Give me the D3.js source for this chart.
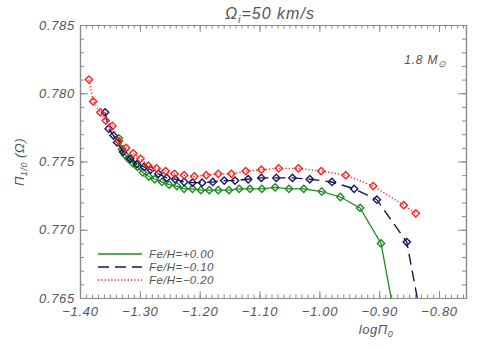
<!DOCTYPE html>
<html>
<head>
<meta charset="utf-8">
<script src="https://cdn.jsdelivr.net/npm/d3@7"></script>
<style>
  body { margin: 0; background: #fff; }
  svg text { font-family: "Liberation Sans", Arial, sans-serif; font-style: italic; fill: #555; }
</style>
</head>
<body>
<svg width="491" height="350"></svg>
<script>
// data (logPi0, Pi1/0)
var seriesNames = ['Fe/H=+0.00', 'Fe/H=\u22120.10', 'Fe/H=\u22120.20'];

var greenX = [-1.335, -1.330, -1.325, -1.319, -1.312, -1.304, -1.295, -1.285, -1.275, -1.263,
  -1.251, -1.238, -1.226, -1.212, -1.198, -1.184, -1.169, -1.151, -1.134, -1.116,
  -1.096, -1.074, -1.051, -1.026, -0.996, -0.965, -0.932, -0.897, -0.875];
var greenY = [0.7767, 0.7759, 0.7755, 0.7752, 0.7749, 0.7746, 0.7742, 0.7739, 0.7737, 0.7735,
  0.7733, 0.7732, 0.7730, 0.7730, 0.7729, 0.7729, 0.7729, 0.7729, 0.7730, 0.7730,
  0.7730, 0.7731, 0.7730, 0.7730, 0.7728, 0.7724, 0.7716, 0.7690, 0.7638];

var blueX = [-1.358, -1.352, -1.344, -1.338, -1.328, -1.316, -1.305, -1.293, -1.282, -1.269,
  -1.255, -1.241, -1.226, -1.212, -1.196, -1.178, -1.159, -1.141, -1.119, -1.097,
  -1.072, -1.045, -1.016, -0.979, -0.942, -0.904, -0.854, -0.830];
var blueY = [0.7786, 0.7774, 0.7769, 0.7764, 0.7757, 0.7752, 0.7748, 0.7746, 0.7744, 0.7741,
  0.7738, 0.7737, 0.7735, 0.77345, 0.77345, 0.7735, 0.7736, 0.7736, 0.7737, 0.7738,
  0.7738, 0.7738, 0.7737, 0.7735, 0.7730, 0.7722, 0.7691, 0.7635];

var redX = [-1.385, -1.378, -1.366, -1.357, -1.346, -1.335, -1.323, -1.311, -1.299, -1.286,
  -1.272, -1.257, -1.242, -1.226, -1.209, -1.189, -1.169, -1.147, -1.123, -1.097,
  -1.068, -1.035, -0.997, -0.956, -0.910, -0.859, -0.839];
var redY = [0.7810, 0.7794, 0.7786, 0.7780, 0.7776, 0.7765, 0.7760, 0.7756, 0.7752, 0.7747,
  0.7745, 0.7743, 0.7741, 0.7740, 0.7739, 0.7740, 0.7741, 0.7741, 0.7743, 0.7744,
  0.7745, 0.7745, 0.7743, 0.7740, 0.7732, 0.7718, 0.7712];

var xTicks = [-1.40, -1.30, -1.20, -1.10, -1.00, -0.90, -0.80];
var yTicks = [0.765, 0.770, 0.775, 0.780, 0.785];

var pLeft = 80, pRight = 466, pTop = 25, pBottom = 298;

var svg = d3.select('svg');

var x = d3.scaleLinear().domain([-1.40, -0.755]).range([pLeft, pRight]);
var y = d3.scaleLinear().domain([0.765, 0.785]).range([pBottom, pTop]);

var axisCol = '#8a8a8a';

// minor ticks
var xMinor = d3.range(-1.40, -0.755, 0.01);
var yMinor = d3.range(0.765, 0.7851, 0.001);

function styleAxis(g) {
  g.selectAll('path').attr('stroke', axisCol).attr('stroke-width', 1.2);
  g.selectAll('line').attr('stroke', axisCol);
  g.selectAll('text').style('font-size', '13px').style('letter-spacing', '0.7px').attr('fill', '#555');
}

// bottom
svg.append('g').attr('transform', `translate(0,${pBottom})`)
  .call(d3.axisBottom(x).tickValues(xMinor).tickSize(-3.5).tickFormat('').tickSizeOuter(0)).call(styleAxis);
svg.append('g').attr('transform', `translate(0,${pBottom})`)
  .call(d3.axisBottom(x).tickValues(xTicks).tickSize(-7).tickPadding(9).tickFormat(d3.format('.2f')).tickSizeOuter(0))
  .call(styleAxis);
// top
svg.append('g').attr('transform', `translate(0,${pTop})`)
  .call(d3.axisTop(x).tickValues(xMinor).tickSize(-3.5).tickFormat('').tickSizeOuter(0)).call(styleAxis);
svg.append('g').attr('transform', `translate(0,${pTop})`)
  .call(d3.axisTop(x).tickValues(xTicks).tickSize(-7).tickFormat('').tickSizeOuter(0)).call(styleAxis);
// left
svg.append('g').attr('transform', `translate(${pLeft},0)`)
  .call(d3.axisLeft(y).tickValues(yMinor).tickSize(-4).tickFormat('').tickSizeOuter(0)).call(styleAxis);
svg.append('g').attr('transform', `translate(${pLeft},0)`)
  .call(d3.axisLeft(y).tickValues(yTicks).tickSize(-8).tickPadding(5).tickFormat(d3.format('.3f')).tickSizeOuter(0))
  .call(styleAxis);
// right
svg.append('g').attr('transform', `translate(${pRight},0)`)
  .call(d3.axisRight(y).tickValues(yMinor).tickSize(-4).tickFormat('').tickSizeOuter(0)).call(styleAxis);
svg.append('g').attr('transform', `translate(${pRight},0)`)
  .call(d3.axisRight(y).tickValues(yTicks).tickSize(-8).tickFormat('').tickSizeOuter(0)).call(styleAxis);

svg.append('clipPath').attr('id', 'clip')
  .append('rect').attr('x', pLeft).attr('y', pTop).attr('width', pRight - pLeft).attr('height', pBottom - pTop);

var series = [
  {xs: greenX, ys: greenY, color: '#1f8a1f', dash: null, width: 1.3},
  {xs: blueX, ys: blueY, color: '#151560', dash: '11,6', width: 1.4},
  {xs: redX, ys: redY, color: '#ff2020', dash: '1.3,2', width: 1.3}
];

var line = d3.line().x(d => x(d[0])).y(d => y(d[1]));
var diamond = d3.symbol().type(d3.symbolDiamond2).size(34);

var plot = svg.append('g').attr('clip-path', 'url(#clip)');

series.forEach(function(s) {
  var pts = s.xs.map((v, i) => [v, s.ys[i]]);
  plot.append('path')
    .datum(pts)
    .attr('d', line)
    .attr('fill', 'none')
    .attr('stroke', s.color)
    .attr('stroke-width', s.width)
    .attr('stroke-dasharray', s.dash);
  plot.selectAll(null)
    .data(pts)
    .enter()
    .append('path')
      .attr('d', diamond)
      .attr('transform', d => `translate(${x(d[0])},${y(d[1])})`)
      .attr('fill', 'none')
      .attr('stroke', s.color)
      .attr('stroke-width', 1.4);
});

// legend
var legY = [254, 267, 280];
series.forEach(function(s, i) {
  svg.append('line')
    .attr('x1', 98).attr('x2', 142)
    .attr('y1', legY[i]).attr('y2', legY[i])
    .attr('stroke', s.color)
    .attr('stroke-width', s.width)
    .attr('stroke-dasharray', s.dash);
  svg.append('text')
    .attr('x', 149).attr('y', legY[i] + 4)
    .style('font-size', '11.5px')
    .style('letter-spacing', '0.4px')
    .text(seriesNames[i]);
});

// title
var title = svg.append('text')
  .attr('x', 270).attr('y', 19)
  .attr('text-anchor', 'middle')
  .style('font-size', '16px')
  .style('letter-spacing', '1px');
title.append('tspan').text('\u03A9');
title.append('tspan').attr('dy', 4).style('font-size', '10px').text('i');
title.append('tspan').attr('dy', -4).text('=50  km/s');

// mass label
var mass = svg.append('text')
  .attr('x', 447).attr('y', 64)
  .attr('text-anchor', 'end')
  .style('font-size', '12px')
  .style('letter-spacing', '0.8px');
mass.append('tspan').text('1.8  M');
mass.append('tspan').attr('dy', 3).style('font-size', '9px').text('\u2299');

// y label
var ylab = svg.append('text')
  .attr('transform', 'translate(24,162) rotate(-90)')
  .attr('text-anchor', 'middle')
  .style('font-size', '13px')
  .style('letter-spacing', '0.5px');
ylab.append('tspan').text('\u03A0');
ylab.append('tspan').attr('dy', 3).style('font-size', '9px').text('1/0');
ylab.append('tspan').attr('dy', -3).text(' (\u03A9)');

// x label
var xlab = svg.append('text')
  .attr('x', 376).attr('y', 334)
  .attr('text-anchor', 'middle')
  .style('font-size', '13px')
  .style('letter-spacing', '0.5px');
xlab.append('tspan').text('log\u03A0');
xlab.append('tspan').attr('dy', 3).style('font-size', '9px').text('0');
</script>
</body>
</html>
